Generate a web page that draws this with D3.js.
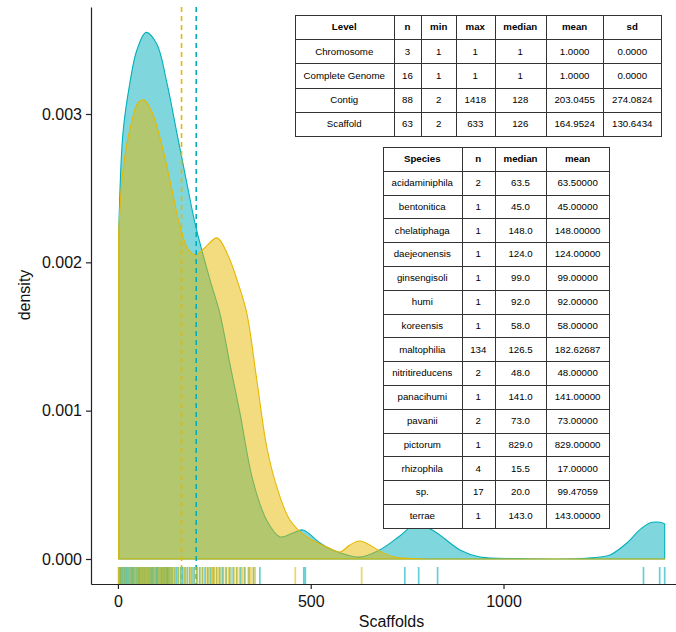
<!DOCTYPE html>
<html>
<head>
<meta charset="utf-8">
<script src="https://cdn.jsdelivr.net/npm/d3@7"></script>
<style>
  body { margin: 0; background: #fff; }
  svg { display: block; font-family: "Liberation Sans", Arial, Helvetica, sans-serif; }
</style>
</head>
<body>
<svg id="chart" width="676" height="632"></svg>
<script>
// density curves: [Scaffolds, density]
const contigDensity = [
    [2, 0.00218], [13, 0.00287], [31, 0.00321], [49, 0.00343], [73, 0.00355],
    [101, 0.00347], [127, 0.00321], [153, 0.00287], [179, 0.00253], [202, 0.00224],
    [239, 0.00188], [264, 0.00166], [290, 0.00132], [316, 0.00099], [350, 0.00053],
    [386, 0.00026], [420, 0.000150], [454, 0.000175], [480, 0.000196], [524, 0.000108],
    [557, 0.000061], [627, 0.000013], [679, 0.000061], [731, 0.000155], [770, 0.000229],
    [815, 0.000196], [887, 0.000061], [939, 0.000013], [1042, 0.000003], [1198, 0.000003],
    [1250, 0.000013], [1276, 0.000027], [1320, 0.000108], [1353, 0.000196], [1379, 0.000243],
    [1397, 0.000249], [1413, 0.000243], [1418, 0.000236]
];
const scaffoldDensity = [
    [2, 0.00220], [13, 0.00262], [34, 0.00293], [52, 0.003075], [67, 0.003095],
    [88, 0.003014], [114, 0.00279], [140, 0.00249], [163, 0.00222], [184, 0.00208],
    [202, 0.00205], [226, 0.00210], [257, 0.002165], [285, 0.00205], [309, 0.00188],
    [334, 0.00166], [360, 0.00121], [386, 0.000755], [412, 0.000486], [446, 0.000263],
    [490, 0.000148], [542, 0.000081], [576, 0.000047], [601, 0.000094], [627, 0.000121],
    [653, 0.000094], [679, 0.000054], [718, 0.000013], [783, 0.000002], [990, 0], [1418, 0]
];

// rug values
const contigRug = [2, 5, 7, 9, 12, 15, 18, 21, 24, 27, 30, 33, 36, 38, 40, 43, 47, 50, 53, 55,
    56, 59, 62, 65, 68, 71, 74, 77, 80, 83, 86, 88, 90, 93, 97, 100, 102, 104, 108, 111,
    114, 117, 120, 123, 126, 128, 128, 131, 134, 138, 142, 147, 152, 157, 163, 168, 174, 180,
    186, 192, 198, 205, 212, 219, 226, 233, 240, 248, 256, 264, 272, 281, 290, 299, 308, 318,
    328, 340, 352, 368, 482, 486, 744, 780, 829, 1363, 1405, 1418];
const scaffoldRug = [2, 3, 8, 14, 19, 25, 31, 36, 41, 46, 51, 55, 59, 63, 67, 71, 75, 79, 83, 88,
    93, 98, 104, 110, 116, 122, 126, 130, 135, 141, 148, 156, 164, 172, 180, 188, 196, 204,
    212, 220, 228, 236, 243, 245, 250, 256, 262, 268, 274, 280, 287, 294, 301, 308, 315, 322,
    330, 338, 345, 351, 356, 460, 632];

const contigMean = 203.0455;
const scaffoldMean = 164.9524;

const xTicks = [0, 500, 1000];
const yTicks = [0, 0.001, 0.002, 0.003];

const levelColumns = ["Level", "n", "min", "max", "median", "mean", "sd"];
const levelRows = [
    ["Chromosome", "3", "1", "1", "1", "1.0000", "0.0000"],
    ["Complete Genome", "16", "1", "1", "1", "1.0000", "0.0000"],
    ["Contig", "88", "2", "1418", "128", "203.0455", "274.0824"],
    ["Scaffold", "63", "2", "633", "126", "164.9524", "130.6434"]
];
const speciesColumns = ["Species", "n", "median", "mean"];
const speciesRows = [
    ["acidaminiphila", "2", "63.5", "63.50000"],
    ["bentonitica", "1", "45.0", "45.00000"],
    ["chelatiphaga", "1", "148.0", "148.00000"],
    ["daejeonensis", "1", "124.0", "124.00000"],
    ["ginsengisoli", "1", "99.0", "99.00000"],
    ["humi", "1", "92.0", "92.00000"],
    ["koreensis", "1", "58.0", "58.00000"],
    ["maltophilia", "134", "126.5", "182.62687"],
    ["nitritireducens", "2", "48.0", "48.00000"],
    ["panacihumi", "1", "141.0", "141.00000"],
    ["pavanii", "2", "73.0", "73.00000"],
    ["pictorum", "1", "829.0", "829.00000"],
    ["rhizophila", "4", "15.5", "17.00000"],
    ["sp.", "17", "20.0", "99.47059"],
    ["terrae", "1", "143.0", "143.00000"]
];

const cyan = "#00AFBB";
const yellow = "#E7B800";

const svg = d3.select("#chart");
svg.append("rect").attr("width", 676).attr("height", 632).attr("fill", "#fff");

const x = d3.scaleLinear()
    .domain([-69.85, 1488.85])
    .range([91, 692]);

const y = d3.scaleLinear()
    .domain([-0.0001685, 0.0037213])
    .range([584, 7]);

const area = d3.area()
    .x(d => x(d[0]))
    .y0(y(0))
    .y1(d => y(d[1]))
    .curve(d3.curveCatmullRom.alpha(0.5));

// densities (Contig first, Scaffold on top)
[[contigDensity, cyan], [scaffoldDensity, yellow]].forEach(([data, col]) => {
    svg.append("path")
        .datum(data)
        .attr("d", area)
        .attr("fill", col)
        .attr("fill-opacity", 0.5)
        .attr("stroke", col)
        .attr("stroke-width", 1.1)
        .attr("stroke-linejoin", "round");
});

// mean lines
[[scaffoldMean, yellow], [contigMean, cyan]].forEach(([m, col]) => {
    svg.append("line")
        .attr("x1", x(m)).attr("x2", x(m))
        .attr("y1", 7).attr("y2", 584)
        .attr("stroke", col)
        .attr("stroke-width", 1.6)
        .attr("stroke-dasharray", "5,4");
});

// rug
[[contigRug, cyan], [scaffoldRug, yellow]].forEach(([vals, col]) => {
    svg.append("g")
        .selectAll("line")
        .data(vals)
        .enter()
        .append("line")
        .attr("x1", d => x(d)).attr("x2", d => x(d))
        .attr("y1", 567).attr("y2", 584)
        .attr("stroke", col)
        .attr("stroke-opacity", 0.6)
        .attr("stroke-width", 1.7);
});

// axes
const xAxis = svg.append("g")
    .attr("transform", "translate(0,584)")
    .call(d3.axisBottom(x).tickValues(xTicks).tickFormat(d3.format("d"))
        .tickSizeInner(5).tickSizeOuter(0).tickPadding(7));
const yAxis = svg.append("g")
    .attr("transform", "translate(91,0)")
    .call(d3.axisLeft(y).tickValues(yTicks).tickFormat(d3.format(".3f"))
        .tickSizeInner(5).tickSizeOuter(0).tickPadding(4));

[xAxis, yAxis].forEach(a => {
    a.select(".domain").attr("stroke", "#222").attr("stroke-width", 1.2);
    a.selectAll(".tick line").attr("stroke", "#222").attr("stroke-width", 1.2);
    a.selectAll(".tick text")
        .style("font-size", "16px")
        .style("font-family", "'Liberation Sans', Arial, sans-serif")
        .attr("fill", "#111");
});

svg.append("text")
    .attr("x", 391.5).attr("y", 627)
    .attr("text-anchor", "middle")
    .style("font-size", "16px")
    .attr("fill", "#111")
    .text("Scaffolds");

svg.append("text")
    .attr("transform", "translate(30,295) rotate(-90)")
    .attr("text-anchor", "middle")
    .style("font-size", "16px")
    .attr("fill", "#111")
    .text("density");

// summary tables
const tableFont = 9.7;
const cellPad = 8.6;

function drawTable(columns, rows, left, top, rowH) {
    const g = svg.append("g");
    const all = [columns, ...rows];
    const probe = g.append("text").style("font-size", tableFont + "px");
    const widths = columns.map((c, j) => d3.max(all, (r, i) => {
        probe.attr("font-weight", i === 0 ? "bold" : "normal").text(r[j]);
        return probe.node().getComputedTextLength();
    }) + 2 * cellPad);
    probe.remove();
    const xs = [left, ...d3.cumsum(widths).map(v => left + v)];

    all.forEach((r, i) => {
        r.forEach((cell, j) => {
            g.append("rect")
                .attr("x", Math.round(xs[j]) + 0.5)
                .attr("y", Math.round(top + i * rowH) + 0.5)
                .attr("width", Math.round(xs[j + 1]) - Math.round(xs[j]))
                .attr("height", Math.round(top + (i + 1) * rowH) - Math.round(top + i * rowH))
                .attr("fill", "#fff")
                .attr("stroke", "#333")
                .attr("stroke-width", 1);
            g.append("text")
                .attr("x", (xs[j] + xs[j + 1]) / 2)
                .attr("y", top + (i + 0.5) * rowH)
                .attr("dy", "0.35em")
                .attr("text-anchor", "middle")
                .attr("font-weight", i === 0 ? "bold" : "normal")
                .style("font-size", tableFont + "px")
                .attr("fill", "#000")
                .text(cell);
        });
    });
}

drawTable(levelColumns, levelRows, 295, 15, 24.2);
drawTable(speciesColumns, speciesRows, 383, 147, 23.8);
</script>
</body>
</html>
